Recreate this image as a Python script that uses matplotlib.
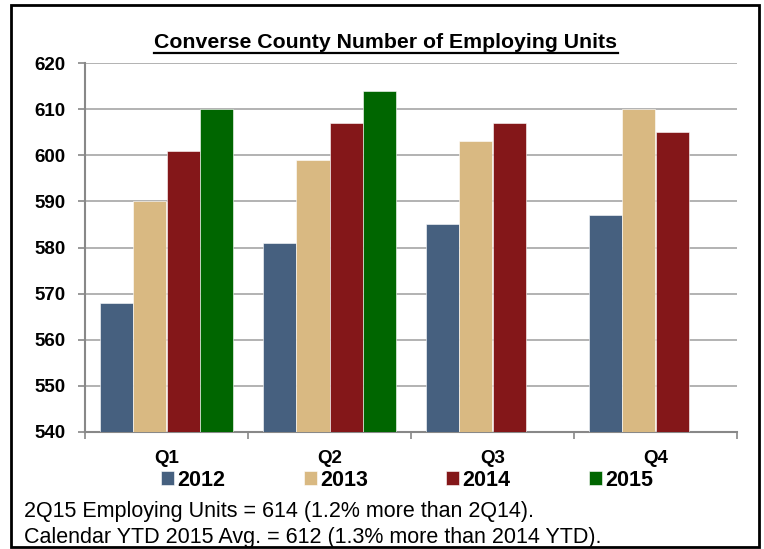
import matplotlib
matplotlib.use("Agg")
import matplotlib.pyplot as plt
import numpy as np
from matplotlib.patches import Rectangle
from matplotlib.lines import Line2D

quarters = ["Q1", "Q2", "Q3", "Q4"]
years = ["2012", "2013", "2014", "2015"]
units_2012 = [568, 581, 585, 587]
units_2013 = [590, 599, 603, 610]
units_2014 = [601, 607, 607, 605]
units_2015 = [610, 614, np.nan, np.nan]
colors = ["#46607F", "#D9B982", "#841719", "#006600"]

notes = ["2Q15 Employing Units = 614 (1.2% more than 2Q14).",
         "Calendar YTD 2015 Avg. = 612 (1.3% more than 2014 YTD)."]

plt.rcParams['font.family'] = ['Liberation Sans', 'DejaVu Sans']

W, H = 764, 549
fig = plt.figure(figsize=(W / 100, H / 100), dpi=100)
ax = fig.add_axes([85 / W, 1 - 432 / H, (737 - 85) / W, (432 - 63) / H])

# outer black frame
fig.patches.append(Rectangle((11 / W, 1 - 547 / H), (759 - 11) / W, (547 - 5) / H,
                             transform=fig.transFigure, fill=False,
                             edgecolor="black", linewidth=2))

series = [units_2012, units_2013, units_2014, units_2015]
w = 0.2045
x = np.arange(len(quarters)) + 0.5
bars = []
for i, (vals, c) in enumerate(zip(series, colors)):
    b = ax.bar(x + (i - 1.5) * w, vals, width=w, color=c, edgecolor="white",
               linewidth=0.4, zorder=3, label=years[i])
    bars.append(b)

ax.set_ylim(540, 620)
ax.set_xlim(0, 4)
ax.set_yticks(np.arange(540, 621, 10))
ax.yaxis.grid(True, color="#A6A6A6", linewidth=1.2, zorder=0)
ax.set_xticks(np.arange(0, 5))
ax.set_xticklabels([])
ax.set_xticks(x, minor=True)
ax.set_xticklabels(quarters, minor=True, fontsize=13.5, fontweight="bold")
ax.tick_params(axis="x", which="minor", length=0, pad=13)
ax.tick_params(axis="x", which="major", length=5, color="#888888", width=1.2)
ax.tick_params(axis="y", length=5, color="#888888", width=1.2, pad=9)
for lab in ax.get_yticklabels():
    lab.set_fontweight("bold")
    lab.set_fontsize(13.5)
for s in ["top", "right"]:
    ax.spines[s].set_visible(False)
for s in ["left", "bottom"]:
    ax.spines[s].set_color("#888888")
    ax.spines[s].set_linewidth(1.5)

title = fig.text(386 / W, 1 - 42 / H, "Converse County Number of Employing Units",
                 ha="center", va="center", fontsize=15.3, fontweight="bold")

leg = fig.legend(handles=[b[0] for b in bars], labels=years, loc="center",
                 bbox_to_anchor=(407 / W, 1 - 480 / H), ncol=4, frameon=False,
                 handlelength=0.6, handleheight=0.6, handletextpad=0.15,
                 columnspacing=3.65, prop={"size": 15.5, "weight": "bold"})

fig.text(24 / W, 1 - 511 / H, notes[0], ha="left", va="center", fontsize=15.5)
fig.text(24 / W, 1 - 538 / H, notes[1], ha="left", va="center", fontsize=15.5)

# underline the title
fig.canvas.draw()
bb = title.get_window_extent().transformed(fig.transFigure.inverted())
fig.add_artist(Line2D([bb.x0, bb.x1], [bb.y0 - 0.002, bb.y0 - 0.002],
                      transform=fig.transFigure, color="black", linewidth=1.6))

fig.savefig("out.png", dpi=100)
